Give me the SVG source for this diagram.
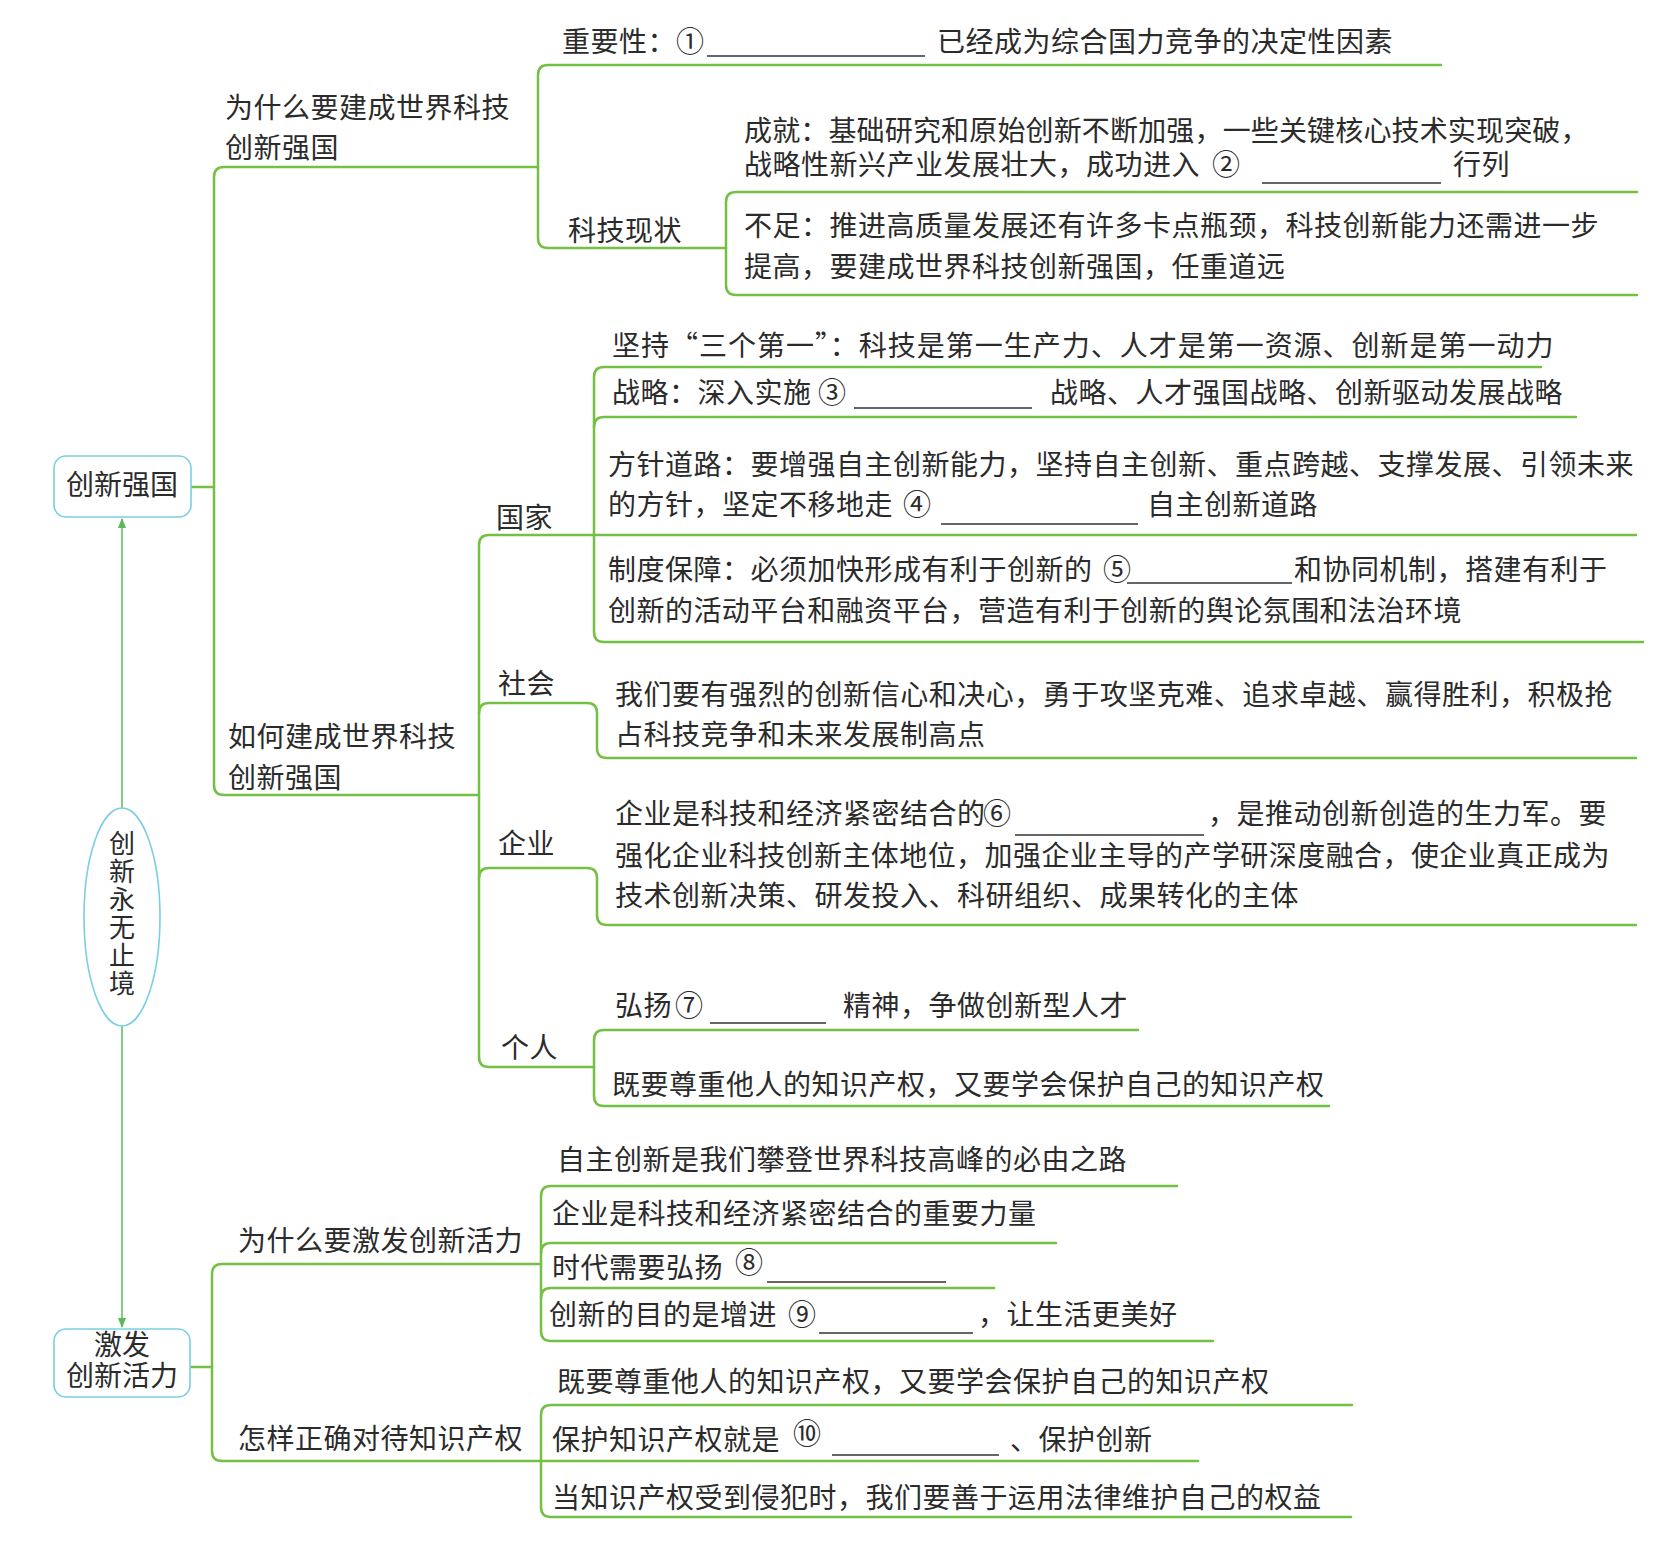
<svg xmlns="http://www.w3.org/2000/svg" width="1680" height="1565" viewBox="0 0 1680 1565">
<style>
.t{font-family:"Noto Sans CJK SC","Noto Sans",sans-serif;font-size:28px;fill:#2b2b2b;letter-spacing:0.5px}
.c{text-anchor:middle;letter-spacing:0}
.v{font-size:26px;writing-mode:vertical-rl;letter-spacing:2px}
.ln{fill:none;stroke:#74c043;stroke-width:2.5;stroke-linecap:round;stroke-linejoin:round}
.ar{fill:none;stroke:#5cb85c;stroke-width:1.5}
.bl{stroke:#333;stroke-width:1.5}
.nd{fill:#fff;stroke:#79cfe3;stroke-width:1.6}
</style>
<defs>
<marker id="ah" viewBox="0 0 10 10" refX="9" refY="5" markerWidth="7" markerHeight="7" orient="auto">
<path d="M0,1 L10,5 L0,9 Z" fill="#5cb85c"/>
</marker>
</defs>
<rect width="1680" height="1565" fill="#fff"/>

<g id="connectors">
<path class="ln" d="M538,167 H224 Q214,167 214,177 V785 Q214,795 224,795 H479"/>
<path class="ln" d="M191,487 H214"/>
<path class="ln" d="M1441,65 H548 Q538,65 538,75 V238 Q538,248 548,248 H726"/>
<path class="ln" d="M1637,192 H736 Q726,192 726,202 V285 Q726,295 736,295 H1637"/>
<path class="ln" d="M1636,535 H489 Q479,535 479,545 V1057 Q479,1067 489,1067 H594"/>
<path class="ln" d="M1541,367 H604 Q594,367 594,377 V632 Q594,642 604,642 H1643"/>
<path class="ln" d="M594,427 Q594,417 604,417 H1576"/>
<path class="ln" d="M479,713 Q479,703 489,703 H587 Q597,703 597,713 V748 Q597,758 607,758 H1636"/>
<path class="ln" d="M479,878 Q479,868 489,868 H587 Q597,868 597,878 V915 Q597,925 607,925 H1636"/>
<path class="ln" d="M1138,1030 H604 Q594,1030 594,1040 V1096 Q594,1106 604,1106 H1329"/>
<path class="ln" d="M541,1264 H222 Q212,1264 212,1274 V1451 Q212,1461 222,1461 H1198"/>
<path class="ln" d="M190,1367 H212"/>
<path class="ln" d="M1177,1186 H551 Q541,1186 541,1196 V1331 Q541,1341 551,1341 H1213"/>
<path class="ln" d="M541,1253 Q541,1243 551,1243 H1056"/>
<path class="ln" d="M541,1298 Q541,1288 551,1288 H994"/>
<path class="ln" d="M1352,1405 H551 Q541,1405 541,1415 V1507 Q541,1517 551,1517 H1351"/>
<line class="ar" x1="122" y1="809" x2="122" y2="519" marker-end="url(#ah)"/>
<line class="ar" x1="122" y1="1026" x2="122" y2="1327" marker-end="url(#ah)"/>
</g>

<g id="blanks">
<line class="bl" x1="707" y1="56" x2="925" y2="56"/>
<line class="bl" x1="1262" y1="183" x2="1441" y2="183"/>
<line class="bl" x1="854" y1="408" x2="1032" y2="408"/>
<line class="bl" x1="941" y1="524" x2="1138" y2="524"/>
<line class="bl" x1="1127" y1="583" x2="1292" y2="583"/>
<line class="bl" x1="1015" y1="835" x2="1204" y2="835"/>
<line class="bl" x1="710" y1="1023" x2="826" y2="1023"/>
<line class="bl" x1="767" y1="1282" x2="946" y2="1282"/>
<line class="bl" x1="819" y1="1333" x2="973" y2="1333"/>
<line class="bl" x1="832" y1="1455" x2="999" y2="1455"/>
</g>

<g id="node-cxqg">
<rect class="nd" x="54" y="456" width="137" height="61" rx="12"/>
<text class="t c" x="122" y="495">创新强国</text>
</g>
<g id="node-cxywzj">
<ellipse class="nd" cx="122" cy="917" rx="38" ry="109"/>
<text class="t v" x="122" y="830">创新永无止境</text>
</g>
<g id="node-jfcxhl">
<rect class="nd" x="54" y="1329" width="136" height="68" rx="12"/>
<text class="t c" x="122" y="1355"><tspan x="122" y="1355">激发</tspan><tspan x="122" y="1386">创新活力</tspan></text>
</g>

<g id="node-why-build">
<text class="t" x="225" y="118">为什么要建成世界科技</text>
<text class="t" x="225" y="158">创新强国</text>
</g>
<g id="node-importance">
<text class="t" x="562" y="52">重要性：①</text>
<text class="t" x="937" y="52">已经成为综合国力竞争的决定性因素</text>
</g>
<g id="node-status">
<text class="t" x="568" y="241">科技现状</text>
</g>
<g id="node-achieve">
<text class="t" x="744" y="141"><tspan x="744" y="141" textLength="845">成就：基础研究和原始创新不断加强，一些关键核心技术实现突破，</tspan><tspan x="744" y="175">战略性新兴产业发展壮大，成功进入</tspan><tspan x="1212" y="175">②</tspan><tspan x="1453" y="175">行列</tspan></text>
</g>
<g id="node-lack">
<text class="t" x="744" y="236" textLength="855">不足：推进高质量发展还有许多卡点瓶颈，科技创新能力还需进一步</text>
<text class="t" x="744" y="277">提高，要建成世界科技创新强国，任重道远</text>
</g>

<g id="node-how-build">
<text class="t" x="228" y="747">如何建成世界科技</text>
<text class="t" x="228" y="788">创新强国</text>
</g>
<g id="node-state">
<text class="t" x="496" y="528">国家</text>
</g>
<g id="node-three-first">
<text class="t" x="612" y="356" textLength="942">坚持“三个第一”：科技是第一生产力、人才是第一资源、创新是第一动力</text>
</g>
<g id="node-strategy">
<text class="t" x="612" y="403">战略：深入实施</text>
<text class="t" x="818" y="403">③</text>
<text class="t" x="1050" y="403">战略、人才强国战略、创新驱动发展战略</text>
</g>
<g id="node-policy">
<text class="t" x="608" y="475" textLength="1026">方针道路：要增强自主创新能力，坚持自主创新、重点跨越、支撑发展、引领未来</text>
<text class="t" x="608" y="515">的方针，坚定不移地走</text>
<text class="t" x="903" y="515">④</text>
<text class="t" x="1147" y="515">自主创新道路</text>
</g>
<g id="node-system">
<text class="t" x="608" y="580">制度保障：必须加快形成有利于创新的</text>
<text class="t" x="1103" y="580">⑤</text>
<text class="t" x="1294" y="580">和协同机制，搭建有利于</text>
<text class="t" x="608" y="621" textLength="854">创新的活动平台和融资平台，营造有利于创新的舆论氛围和法治环境</text>
</g>
<g id="node-society">
<text class="t" x="498" y="694">社会</text>
</g>
<g id="node-society-text">
<text class="t" x="615" y="705" textLength="998">我们要有强烈的创新信心和决心，勇于攻坚克难、追求卓越、赢得胜利，积极抢</text>
<text class="t" x="615" y="745">占科技竞争和未来发展制高点</text>
</g>
<g id="node-enterprise">
<text class="t" x="498" y="854">企业</text>
</g>
<g id="node-enterprise-text">
<text class="t" x="615" y="824">企业是科技和经济紧密结合的</text>
<text class="t" x="983" y="824">⑥</text>
<text class="t" x="1208" y="824">，是推动创新创造的生力军。要</text>
<text class="t" x="615" y="866" textLength="995">强化企业科技创新主体地位，加强企业主导的产学研深度融合，使企业真正成为</text>
<text class="t" x="615" y="906">技术创新决策、研发投入、科研组织、成果转化的主体</text>
</g>
<g id="node-person">
<text class="t" x="501" y="1058">个人</text>
</g>
<g id="node-spirit">
<text class="t" x="615" y="1016">弘扬</text>
<text class="t" x="675" y="1016">⑦</text>
<text class="t" x="843" y="1016">精神，争做创新型人才</text>
</g>
<g id="node-ip-person">
<text class="t" x="612" y="1095">既要尊重他人的知识产权，又要学会保护自己的知识产权</text>
</g>

<g id="node-why-inspire">
<text class="t" x="238" y="1251">为什么要激发创新活力</text>
</g>
<g id="node-road">
<text class="t" x="557" y="1170">自主创新是我们攀登世界科技高峰的必由之路</text>
</g>
<g id="node-force">
<text class="t" x="552" y="1224">企业是科技和经济紧密结合的重要力量</text>
</g>
<g id="node-era">
<text class="t" x="552" y="1278">时代需要弘扬</text>
<text class="t" x="735" y="1273">⑧</text>
</g>
<g id="node-purpose">
<text class="t" x="549" y="1325">创新的目的是增进</text>
<text class="t" x="788" y="1325">⑨</text>
<text class="t" x="978" y="1325">，让生活更美好</text>
</g>
<g id="node-how-ip">
<text class="t" x="238" y="1449">怎样正确对待知识产权</text>
</g>
<g id="node-ip-respect">
<text class="t" x="557" y="1392">既要尊重他人的知识产权，又要学会保护自己的知识产权</text>
</g>
<g id="node-ip-protect">
<text class="t" x="552" y="1450">保护知识产权就是</text>
<text class="t" x="793" y="1444">⑩</text>
<text class="t" x="1010" y="1450">、保护创新</text>
</g>
<g id="node-ip-law">
<text class="t" x="552" y="1508">当知识产权受到侵犯时，我们要善于运用法律维护自己的权益</text>
</g>
</svg>
